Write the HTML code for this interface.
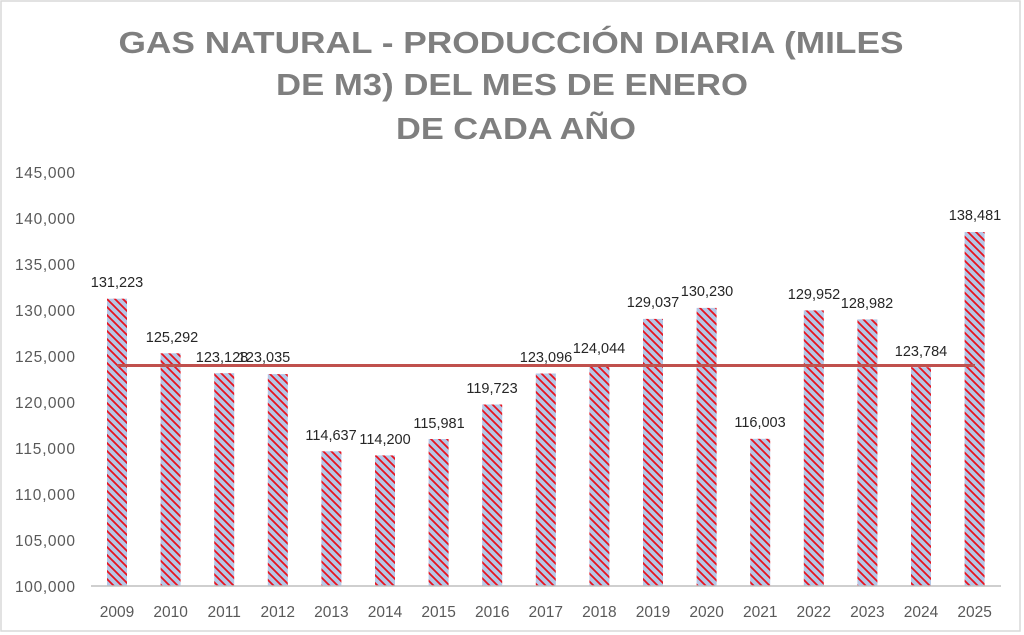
<!DOCTYPE html>
<html><head><meta charset="utf-8"><style>
html,body{margin:0;padding:0;background:#fff;}
svg{display:block;font-family:"Liberation Sans",sans-serif;}
</style></head><body>
<svg width="1024" height="635" viewBox="0 0 1024 635" xmlns="http://www.w3.org/2000/svg">
<defs>
<pattern id="p" patternUnits="userSpaceOnUse" width="8" height="8">
<rect width="8" height="8" fill="#b4c7e7"/>
<path d="M-1,-1 L9,9 M-1,7 L1,9 M7,-1 L9,1" stroke="#e8121e" stroke-width="1.8"/>
</pattern>
</defs>
<rect x="1" y="1" width="1019" height="630" fill="#fff" stroke="#d9d9d9" stroke-width="1.5"/>
<g fill="#7f7f7f" font-weight="bold" font-size="31" text-anchor="middle">
<text x="511" y="53" textLength="785" lengthAdjust="spacingAndGlyphs">GAS NATURAL - PRODUCCIÓN DIARIA (MILES</text>
<text x="512" y="95" textLength="472" lengthAdjust="spacingAndGlyphs">DE M3) DEL MES DE ENERO</text>
<text x="516" y="139" textLength="240" lengthAdjust="spacingAndGlyphs">DE CADA AÑO</text>
</g>
<g fill="#595959" font-size="15.5" text-anchor="end">
<text x="75" y="592" textLength="60">100,000</text>
<text x="75" y="546" textLength="60">105,000</text>
<text x="75" y="500" textLength="60">110,000</text>
<text x="75" y="454" textLength="60">115,000</text>
<text x="75" y="408" textLength="60">120,000</text>
<text x="75" y="362" textLength="60">125,000</text>
<text x="75" y="316" textLength="60">130,000</text>
<text x="75" y="270" textLength="60">135,000</text>
<text x="75" y="224" textLength="60">140,000</text>
<text x="75" y="178" textLength="60">145,000</text>
</g>
<g fill="url(#p)">
<rect x="107" y="298.7" width="20" height="287.3"/>
<rect x="160.6" y="353.3" width="20" height="232.7"/>
<rect x="214.2" y="373.2" width="20" height="212.8"/>
<rect x="267.8" y="374.1" width="20" height="211.9"/>
<rect x="321.4" y="451.3" width="20" height="134.7"/>
<rect x="375" y="455.4" width="20" height="130.6"/>
<rect x="428.6" y="439" width="20" height="147"/>
<rect x="482.2" y="404.5" width="20" height="181.5"/>
<rect x="535.8" y="373.5" width="20" height="212.5"/>
<rect x="589.4" y="364.8" width="20" height="221.2"/>
<rect x="643" y="318.9" width="20" height="267.1"/>
<rect x="696.6" y="307.9" width="20" height="278.1"/>
<rect x="750.2" y="438.8" width="20" height="147.2"/>
<rect x="803.8" y="310.4" width="20" height="275.6"/>
<rect x="857.4" y="319.4" width="20" height="266.6"/>
<rect x="911" y="367.2" width="20" height="218.8"/>
<rect x="964.6" y="232" width="20" height="354"/>
</g>
<line x1="91" y1="586" x2="1001" y2="586" stroke="#bfbfbf" stroke-width="1.5"/>
<line x1="117" y1="365.5" x2="975" y2="365.5" stroke="#c0504d" stroke-width="3"/>
<g fill="#262626" font-size="14.5" text-anchor="middle">
<text x="117" y="287">131,223</text>
<text x="172" y="342">125,292</text>
<text x="222" y="362">123,128</text>
<text x="264" y="362">123,035</text>
<text x="331" y="440">114,637</text>
<text x="385" y="444">114,200</text>
<text x="439" y="428">115,981</text>
<text x="492" y="393">119,723</text>
<text x="546" y="362">123,096</text>
<text x="599" y="353">124,044</text>
<text x="653" y="307">129,037</text>
<text x="707" y="296">130,230</text>
<text x="760" y="427">116,003</text>
<text x="814" y="299">129,952</text>
<text x="867" y="308">128,982</text>
<text x="921" y="356">123,784</text>
<text x="975" y="220">138,481</text>
</g>
<g fill="#595959" font-size="15.5" text-anchor="middle">
<text x="117" y="617">2009</text>
<text x="170.6" y="617">2010</text>
<text x="224.2" y="617">2011</text>
<text x="277.8" y="617">2012</text>
<text x="331.4" y="617">2013</text>
<text x="385" y="617">2014</text>
<text x="438.6" y="617">2015</text>
<text x="492.2" y="617">2016</text>
<text x="545.8" y="617">2017</text>
<text x="599.4" y="617">2018</text>
<text x="653" y="617">2019</text>
<text x="706.6" y="617">2020</text>
<text x="760.2" y="617">2021</text>
<text x="813.8" y="617">2022</text>
<text x="867.4" y="617">2023</text>
<text x="921" y="617">2024</text>
<text x="974.6" y="617">2025</text>
</g>
</svg>
</body></html>
